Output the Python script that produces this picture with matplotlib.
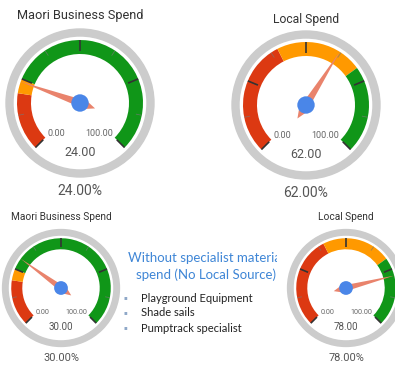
import matplotlib
matplotlib.use("Agg")
import matplotlib.pyplot as plt
import numpy as np
from matplotlib.patches import Wedge, Circle, Polygon, Rectangle

# gauge data
titles = ["Maori Business Spend", "Local Spend", "Maori Business Spend", "Local Spend"]
values = [24.0, 62.0, 30.0, 78.0]
red_end = [20, 40, 20, 40]
orange_end = [25, 70, 25, 70]
range_min, range_max = 0.0, 100.0

note_lines = ["Without specialist material", "spend (No Local Source)"]
bullets = ["Playground Equipment", "Shade sails", "Pumptrack specialist"]

W, H = 395, 367
# centre (px from top left), scale, title y (px from top), title size
layout = [((80, 103), 1.0, 15, 9.2), ((306, 105), 1.0, 19, 8.7),
          ((61, 288), 0.79, 217, 7.3), ((346, 288), 0.79, 217, 7.3)]

RED, ORANGE, GREEN = "#DC3912", "#FF9900", "#109618"
GAUGE_FONT = "Roboto"
NOTE_FONT = "Lato"

fig = plt.figure(figsize=(W / 100, H / 100), dpi=100)
ax = fig.add_axes([0, 0, 1, 1])
ax.set_xlim(0, W)
ax.set_ylim(0, H)
ax.set_aspect("equal")
ax.axis("off")


def ang(v):
    return 225 - 270 * (v - range_min) / (range_max - range_min)


def polar(cx, cy, r, a):
    t = np.radians(a)
    return cx + r * np.cos(t), cy + r * np.sin(t)


def draw_gauge(i, z):
    (cx, cy_img), s, ty, tsize = layout[i]
    cy = H - cy_img
    # outer grey rim
    ax.add_patch(Wedge((cx, cy), 74 * s, 0, 360, width=7 * s, color="#CCCCCC", zorder=z))
    # coloured bands
    bands = [(range_min, red_end[i], RED), (red_end[i], orange_end[i], ORANGE),
             (orange_end[i], range_max, GREEN)]
    for lo, hi, col in bands:
        ax.add_patch(Wedge((cx, cy), 63 * s, ang(hi), ang(lo), width=14 * s,
                           color=col, lw=0, zorder=z + 1))
    # ticks
    for v in np.arange(range_min, range_max + 0.1, 12.5):
        major = v % 25 == 0
        a = ang(v)
        r2 = 52 if major else 57
        x1, y1 = polar(cx, cy, 63 * s, a)
        x2, y2 = polar(cx, cy, r2 * s, a)
        ax.plot([x1, x2], [y1, y2], color="#333333" if major else "#777777",
                lw=1.2 if major else 0.6, alpha=1 if major else 0.7,
                solid_capstyle="butt", zorder=z + 2)
    # min / max labels
    ax.text(cx - 32 * s, cy - 31 * s, f"{range_min:.2f}", ha="left", va="center",
            fontsize=6.5 * s, color="#666666", family=GAUGE_FONT, zorder=z + 2)
    ax.text(cx + 33 * s, cy - 31 * s, f"{range_max:.2f}", ha="right", va="center",
            fontsize=6.5 * s, color="#666666", family=GAUGE_FONT, zorder=z + 2)
    # needle
    a = ang(values[i])
    t = np.radians(a)
    d = np.array([np.cos(t), np.sin(t)])
    p = np.array([-np.sin(t), np.cos(t)])
    c = np.array([cx, cy])
    pts = [c + d * 63 * s,
           c - d * 6 * s + p * 4.2 * s,
           c - d * 16 * s,
           c - d * 6 * s - p * 4.2 * s]
    ax.add_patch(Polygon(pts, closed=True, color="#E9836C", lw=0, zorder=z + 3))
    ax.add_patch(Circle((cx, cy), 8.7 * s, color="#4A86E8", lw=0, zorder=z + 4))
    # value texts
    ax.text(cx, cy - 50 * s, f"{values[i]:.2f}", ha="center", va="center",
            fontsize=9 * s, color="#555555", family=GAUGE_FONT, zorder=z + 2)
    ax.text(cx, cy - 88 * s, f"{values[i]:.2f}%", ha="center", va="center",
            fontsize=10 * s, color="#555555", family=GAUGE_FONT, zorder=z + 2)
    ax.text(cx, H - ty, titles[i], ha="center", va="center",
            fontsize=tsize, color="#333333", family=GAUGE_FONT, zorder=z + 2)


for i in range(3):
    draw_gauge(i, 5)

# note text block
ax.text(206.5, H - 258, note_lines[0], ha="center", va="center", fontsize=9.5,
        color="#3F86D6", family=NOTE_FONT, zorder=2)
ax.text(206.5, H - 275, note_lines[1], ha="center", va="center", fontsize=9.5,
        color="#3F86D6", family=NOTE_FONT, zorder=2)
for k, b in enumerate(bullets):
    y = H - (298 + 15 * k)
    ax.text(125, y, "\u25aa", ha="center", va="center", fontsize=4,
            color="#8FA8C8", zorder=2)
    ax.text(141, y, b, ha="left", va="center", fontsize=8, color="#222222",
            family=NOTE_FONT, zorder=2)

# last gauge sits on its own white tile, over the note
ax.add_patch(Rectangle((277, 0), W - 277, H - 205, color="white", lw=0, zorder=3))
draw_gauge(3, 5)

fig.savefig("out.png", dpi=100)
